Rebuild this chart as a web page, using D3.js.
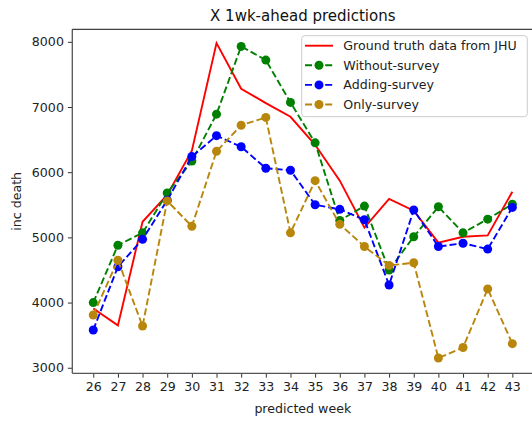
<!DOCTYPE html>
<html>
<head>
<meta charset="utf-8">
<script src="https://cdn.jsdelivr.net/npm/d3@7"></script>
<style>
  html, body { margin: 0; padding: 0; background: #fff; }
  svg { display: block; font-family: "DejaVu Sans", sans-serif; }
</style>
</head>
<body>
<svg id="chart" width="532" height="423"></svg>
<script>
// Weekly incident deaths: observed vs. three forecast variants
const weeks = [26, 27, 28, 29, 30, 31, 32, 33, 34, 35, 36, 37, 38, 39, 40, 41, 42, 43];
const groundTruth   = [3910, 3650, 5240, 5650, 6330, 7980, 7280, 7060, 6850, 6420, 5870, 5150, 5590, 5410, 4920, 5010, 5030, 5700];
const withoutSurvey = [4000, 4880, 5070, 5680, 6170, 6890, 7930, 7720, 7070, 6450, 5260, 5480, 4500, 5010, 5470, 5070, 5280, 5510];
const addingSurvey  = [3580, 4550, 4970, 5570, 6240, 6560, 6390, 6060, 6030, 5500, 5430, 5270, 4270, 5420, 4860, 4910, 4820, 5460];
const onlySurvey    = [3810, 4650, 3640, 5560, 5170, 6320, 6720, 6840, 5070, 5870, 5200, 4860, 4570, 4610, 3150, 3310, 4210, 3370];
const yTicks = [3000, 4000, 5000, 6000, 7000, 8000];

const seriesList = [
  { name: "Ground truth data from JHU", values: groundTruth,   color: "#ff0000", dashed: false, markers: false },
  { name: "Without-survey",             values: withoutSurvey, color: "#008000", dashed: true,  markers: true },
  { name: "Adding-survey",              values: addingSurvey,  color: "#0000ff", dashed: true,  markers: true },
  { name: "Only-survey",                values: onlySurvey,    color: "#b8860b", dashed: true,  markers: true }
];

const svg = d3.select("#chart");
const plot = { left: 72.3, right: 533.3, top: 29.3, bottom: 373.3 };

const x = d3.scaleLinear().domain([25.15, 43.85]).range([plot.left, plot.right]);
const y = d3.scaleLinear().domain([2915, 8192]).range([plot.bottom, plot.top]);

const fontPx = 12.6;
const markerR = 4.5;

// Axes
const xAxis = svg.append("g")
  .attr("transform", `translate(0,${plot.bottom})`)
  .call(d3.axisBottom(x).tickValues(weeks).tickFormat(d3.format("d")).tickSizeOuter(0).tickSize(4.4).tickPadding(4));
const yAxis = svg.append("g")
  .attr("transform", `translate(${plot.left},0)`)
  .call(d3.axisLeft(y).tickValues(yTicks).tickFormat(d3.format("d")).tickSizeOuter(0).tickSize(4.4).tickPadding(4));

[xAxis, yAxis].forEach(g => {
  g.select(".domain").remove();
  g.selectAll(".tick line").attr("stroke", "#333").attr("stroke-width", 1);
  g.selectAll(".tick text")
    .attr("fill", "#222")
    .style("font-family", "'DejaVu Sans', sans-serif")
    .style("font-size", fontPx + "px");
});

// Frame
const frame = svg.append("g").attr("fill", "none");
frame.append("line").attr("x1", plot.left).attr("x2", plot.left).attr("y1", plot.top).attr("y2", plot.bottom)
  .attr("stroke", "#555").attr("stroke-width", 1.3);
frame.append("line").attr("x1", plot.left).attr("x2", plot.right).attr("y1", plot.bottom).attr("y2", plot.bottom)
  .attr("stroke", "#555").attr("stroke-width", 1.3);
frame.append("line").attr("x1", plot.left).attr("x2", plot.right).attr("y1", plot.top).attr("y2", plot.top)
  .attr("stroke", "#111").attr("stroke-width", 1);
frame.append("line").attr("x1", plot.right).attr("x2", plot.right).attr("y1", plot.top).attr("y2", plot.bottom)
  .attr("stroke", "#111").attr("stroke-width", 1);

// Series
const lineGen = d3.line().x((d, i) => x(weeks[i])).y(d => y(d));
const plotArea = svg.append("g");
seriesList.forEach(s => {
  const g = plotArea.append("g");
  g.append("path")
    .attr("d", lineGen(s.values))
    .attr("fill", "none")
    .attr("stroke", s.color)
    .attr("stroke-width", 1.9)
    .attr("stroke-dasharray", s.dashed ? "7,3.1" : null);
  if (s.markers) {
    g.selectAll("circle").data(s.values).join("circle")
      .attr("cx", (d, i) => x(weeks[i]))
      .attr("cy", d => y(d))
      .attr("r", markerR)
      .attr("fill", s.color);
  }
});

// Titles and axis labels
svg.append("text")
  .attr("x", (plot.left + plot.right) / 2).attr("y", 21)
  .attr("text-anchor", "middle")
  .attr("fill", "#111")
  .style("font-size", "15px")
  .text("X 1wk-ahead predictions");

svg.append("text")
  .attr("x", (plot.left + plot.right) / 2).attr("y", 413)
  .attr("text-anchor", "middle")
  .attr("fill", "#222")
  .style("font-size", fontPx + "px")
  .text("predicted week");

svg.append("text")
  .attr("transform", `translate(21,${(plot.top + plot.bottom) / 2}) rotate(-90)`)
  .attr("text-anchor", "middle")
  .attr("fill", "#222")
  .style("font-size", fontPx + "px")
  .text("inc death");

// Legend
const legend = svg.append("g");
legend.append("rect")
  .attr("x", 301.7).attr("y", 35.7)
  .attr("width", 225.6).attr("height", 81)
  .attr("rx", 3).attr("ry", 3)
  .attr("fill", "#fff").attr("fill-opacity", 0.8)
  .attr("stroke", "#cccccc").attr("stroke-width", 1);

const rowY = [45.7, 65.3, 84.9, 104.5];
seriesList.forEach((s, i) => {
  const row = legend.append("g").attr("transform", `translate(0,${rowY[i]})`);
  row.append("line")
    .attr("x1", 305).attr("x2", 333).attr("y1", 0).attr("y2", 0)
    .attr("stroke", s.color).attr("stroke-width", 1.9)
    .attr("stroke-dasharray", s.dashed ? "7,3.1" : null);
  if (s.markers) {
    row.append("circle").attr("cx", 319).attr("cy", 0).attr("r", markerR).attr("fill", s.color);
  }
  row.append("text")
    .attr("x", 343.3).attr("y", 0).attr("dy", "0.36em")
    .attr("fill", "#222")
    .style("font-size", fontPx + "px")
    .text(s.name);
});
</script>
</body>
</html>
